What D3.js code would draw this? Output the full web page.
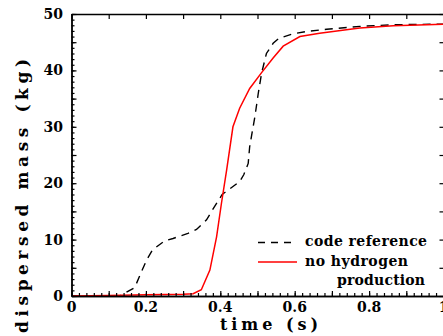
<!DOCTYPE html>
<html>
<head>
<meta charset="utf-8">
<script src="https://cdn.jsdelivr.net/npm/d3@7"></script>
<style>
  html, body { margin: 0; padding: 0; background: #fff; }
  svg { display: block; }
  text { font-family: "DejaVu Serif", serif; font-weight: bold; fill: #000; }
</style>
</head>
<body>
<svg id="chart"></svg>
<script>
// data: time (s) and dispersed mass (kg)
const refTime = [0, 0.13, 0.17, 0.188, 0.202, 0.218, 0.251, 0.273, 0.313, 0.336, 0.363, 0.381, 0.405, 0.452, 0.463, 0.475, 0.479, 0.493, 0.502, 0.511, 0.524, 0.542, 0.558, 0.596, 0.632, 0.686, 0.775, 0.865, 1.0];
const refMass = [0, 0, 1.5, 4.3, 6.4, 8.2, 9.8, 10.2, 11.1, 11.8, 13.5, 15.5, 18.0, 20.3, 21.5, 23.5, 26.5, 31.8, 35.9, 39.5, 43.0, 44.8, 45.7, 46.5, 46.9, 47.3, 47.8, 48.1, 48.2];

const noH2Time = [0, 0.1, 0.2, 0.3, 0.327, 0.349, 0.372, 0.39, 0.403, 0.417, 0.434, 0.452, 0.479, 0.511, 0.542, 0.569, 0.614, 0.667, 0.775, 0.865, 1.0];
const noH2Mass = [0, 0.1, 0.2, 0.3, 0.4, 1.1, 4.6, 10.5, 16.4, 22.3, 30.0, 33.3, 36.8, 39.6, 42.2, 44.3, 46.0, 46.6, 47.5, 47.9, 48.2];

const xTicks = [0, 0.2, 0.4, 0.6, 0.8, 1];
const yTicks = [0, 10, 20, 30, 40, 50];
const legendLabels = ["code reference", "no hydrogen", "production"];

const W = 443, H = 336;
const m = { left: 71.5, top: 14, right: 443.5, bottom: 296 };

const svg = d3.select("#chart").attr("width", W).attr("height", H);

const x = d3.scaleLinear().domain([0, 1]).range([m.left, m.right]);
const y = d3.scaleLinear().domain([0, 50]).range([m.bottom, m.top]);

svg.append("defs").append("clipPath").attr("id", "plot")
  .append("rect")
  .attr("x", m.left).attr("y", m.top - 2)
  .attr("width", m.right - m.left).attr("height", m.bottom - m.top + 2);

// curves
const line = d3.line().x(d => x(d[0])).y(d => y(d[1]));
const refData = refTime.map((t, i) => [t, refMass[i]]);
const noH2Data = noH2Time.map((t, i) => [t, noH2Mass[i]]);

svg.append("path").datum(refData)
  .attr("clip-path", "url(#plot)")
  .attr("fill", "none")
  .attr("stroke", "#000")
  .attr("stroke-width", 1.4)
  .attr("stroke-dasharray", "8,6")
  .attr("d", line);

svg.append("path").datum(noH2Data)
  .attr("clip-path", "url(#plot)")
  .attr("fill", "none")
  .attr("stroke", "#ff0000")
  .attr("stroke-width", 1.5)
  .attr("d", line);

// axes, ticks point inward like the original
svg.append("g").attr("transform", `translate(0,${m.bottom})`)
  .call(d3.axisBottom(x).tickValues(d3.range(0, 1.0001, 0.02)).tickSizeInner(-3).tickSizeOuter(0).tickFormat(""));
svg.append("g").attr("transform", `translate(0,${m.bottom})`)
  .call(d3.axisBottom(x).tickValues(d3.range(0, 1.0001, 0.1)).tickSizeInner(-5).tickSizeOuter(0).tickFormat(""));
svg.append("g").attr("transform", `translate(0,${m.top})`)
  .call(d3.axisTop(x).tickValues(d3.range(0, 1.0001, 0.1)).tickSizeInner(-5).tickSizeOuter(0).tickFormat(""));
svg.append("g").attr("transform", `translate(${m.left},0)`)
  .call(d3.axisLeft(y).tickValues(d3.range(0, 50.001, 1)).tickSizeInner(-3).tickSizeOuter(0).tickFormat(""));
svg.append("g").attr("transform", `translate(${m.left},0)`)
  .call(d3.axisLeft(y).tickValues(d3.range(0, 50.001, 5)).tickSizeInner(-5).tickSizeOuter(0).tickFormat(""));
svg.append("g").attr("transform", `translate(${m.right},0)`)
  .call(d3.axisRight(y).tickValues(d3.range(0, 50.001, 5)).tickSizeInner(-4).tickSizeOuter(0).tickFormat(""));

svg.selectAll(".domain").attr("stroke", "#000").attr("stroke-width", 1.4);
svg.selectAll(".tick line").attr("stroke", "#000").attr("stroke-width", 1.2);

// tick labels
svg.append("g").selectAll("text").data(xTicks).join("text")
  .attr("x", d => x(d))
  .attr("y", 312)
  .attr("text-anchor", "middle")
  .attr("font-size", "14px")
  .text(d => d === 0 || d === 1 ? d3.format("d")(d) : d3.format(".1f")(d));

svg.append("g").selectAll("text").data(yTicks).join("text")
  .attr("x", 63)
  .attr("y", d => y(d) + 5)
  .attr("text-anchor", "end")
  .attr("font-size", "14px")
  .text(d => d);

// axis titles
svg.append("text")
  .attr("x", 220).attr("y", 330)
  .attr("font-size", "16px")
  .attr("textLength", 98).attr("lengthAdjust", "spacing")
  .text("time (s)");

svg.append("text")
  .attr("transform", "translate(28,333) rotate(-90)")
  .attr("font-size", "17px")
  .attr("textLength", 274).attr("lengthAdjust", "spacing")
  .text("dispersed mass (kg)");

// legend
const lg = svg.append("g");
lg.append("line").attr("x1", 258).attr("x2", 297).attr("y1", 242.5).attr("y2", 242.5)
  .attr("stroke", "#000").attr("stroke-width", 1.4).attr("stroke-dasharray", "7,6");
lg.append("line").attr("x1", 258).attr("x2", 297).attr("y1", 262).attr("y2", 262)
  .attr("stroke", "#ff0000").attr("stroke-width", 1.5);
lg.append("text").attr("x", 305).attr("y", 246).attr("font-size", "14px")
  .attr("textLength", 122).attr("lengthAdjust", "spacing").text(legendLabels[0]);
lg.append("text").attr("x", 305).attr("y", 266).attr("font-size", "14px")
  .attr("textLength", 103).attr("lengthAdjust", "spacing").text(legendLabels[1]);
lg.append("text").attr("x", 337).attr("y", 285).attr("font-size", "14px")
  .attr("textLength", 88).attr("lengthAdjust", "spacing").text(legendLabels[2]);
</script>
</body>
</html>
